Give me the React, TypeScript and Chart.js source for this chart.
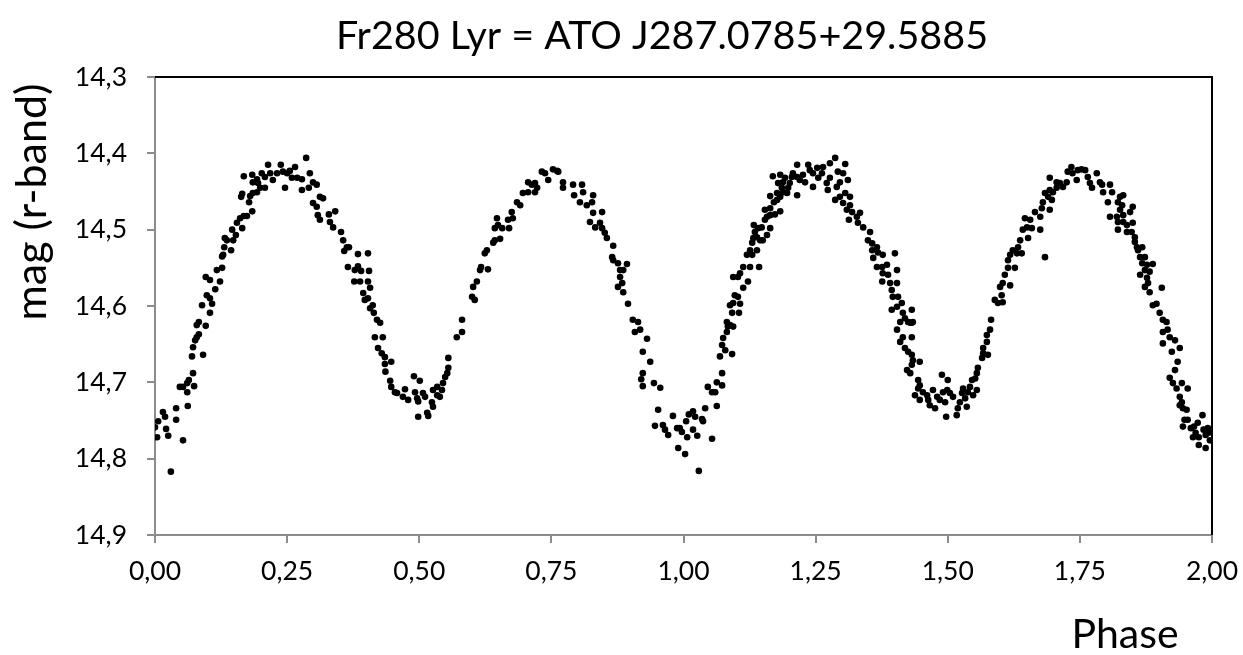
import { useEffect, useRef } from "react";
import { Chart, registerables } from "chart.js";

Chart.register(...registerables);

const chartTitle = "Fr280 Lyr = ATO J287.0785+29.5885";
const xAxisTitle = "Phase";
const yAxisTitle = "mag (r-band)";

const xMin = 0;
const xMax = 2;
const xStep = 0.25;
const yMin = 14.3;
const yMax = 14.9;
const yStep = 0.1;

// [phase, magnitude]
const segmentA: [number, number][] = [
  [0.000,14.759],[0.004,14.772],[0.006,14.751],[0.015,14.739],[0.019,14.745],[0.021,14.761],[0.025,14.770],[0.030,14.817],
  [0.040,14.734],[0.040,14.749],[0.053,14.776],[0.047,14.706],[0.053,14.706],[0.061,14.701],[0.061,14.713],[0.062,14.731],
  [0.064,14.697],[0.072,14.688],[0.074,14.705],[0.070,14.666],[0.072,14.654],[0.076,14.645],[0.079,14.641],[0.091,14.664],
  [0.083,14.637],[0.079,14.625],[0.083,14.621],[0.096,14.626],[0.089,14.599],[0.104,14.609],[0.108,14.597],[0.098,14.586],
  [0.104,14.590],[0.114,14.578],[0.123,14.568],[0.096,14.562],[0.104,14.566],[0.117,14.553],[0.127,14.550],[0.127,14.535],
  [0.129,14.533],[0.131,14.523],[0.144,14.527],[0.132,14.511],[0.136,14.514],[0.148,14.514],[0.153,14.507],[0.146,14.500],
  [0.155,14.491],[0.165,14.498],[0.161,14.485],[0.168,14.482],[0.174,14.482],[0.184,14.476],[0.178,14.464],[0.163,14.457],
  [0.165,14.453],[0.180,14.456],[0.185,14.452],[0.193,14.451],[0.199,14.445],[0.168,14.430],[0.184,14.428],[0.185,14.438],
  [0.193,14.434],[0.195,14.439],[0.202,14.426],[0.208,14.431],[0.214,14.415],[0.208,14.445],[0.218,14.426],[0.223,14.435],
  [0.231,14.426],[0.238,14.415],[0.242,14.424],[0.246,14.445],[0.250,14.426],[0.255,14.423],[0.259,14.432],[0.265,14.418],
  [0.269,14.432],[0.278,14.434],[0.286,14.406],[0.278,14.448],[0.293,14.426],[0.291,14.445],[0.299,14.438],[0.306,14.441],
  [0.299,14.465],[0.312,14.457],[0.318,14.459],[0.306,14.470],[0.308,14.481],[0.312,14.487],[0.329,14.480],[0.341,14.476],
  [0.331,14.490],[0.337,14.497],[0.352,14.503],[0.356,14.514],[0.363,14.523],[0.358,14.528],[0.367,14.523],[0.384,14.532],
  [0.403,14.531],[0.365,14.549],[0.384,14.548],[0.378,14.553],[0.390,14.554],[0.405,14.554],[0.377,14.568],[0.388,14.568],
  [0.403,14.568],[0.407,14.576],[0.394,14.583],[0.397,14.592],[0.403,14.590],[0.412,14.599],[0.407,14.603],[0.414,14.609],
  [0.420,14.618],[0.426,14.622],[0.416,14.641],[0.431,14.641],
];

const segmentB: [number, number][] = [
  [0.422,14.655],[0.429,14.662],[0.435,14.667],[0.435,14.676],[0.447,14.673],[0.436,14.686],[0.445,14.698],[0.447,14.706],
  [0.454,14.713],[0.458,14.714],[0.473,14.709],[0.469,14.719],[0.479,14.723],[0.490,14.692],[0.501,14.698],[0.492,14.713],
  [0.496,14.721],[0.498,14.725],[0.507,14.714],[0.511,14.719],[0.498,14.745],[0.515,14.740],[0.517,14.744],[0.524,14.726],
  [0.526,14.732],[0.526,14.710],[0.534,14.706],[0.534,14.717],[0.539,14.719],[0.543,14.710],[0.545,14.701],[0.549,14.693],
  [0.553,14.688],[0.555,14.681],[0.555,14.668],[0.571,14.641],[0.581,14.634],[0.581,14.618],[0.600,14.588],[0.605,14.592],
  [0.602,14.575],[0.609,14.568],[0.615,14.553],[0.617,14.549],[0.630,14.552],[0.624,14.531],[0.628,14.527],[0.640,14.517],
  [0.643,14.514],[0.653,14.512],[0.643,14.498],[0.649,14.494],[0.647,14.485],[0.657,14.498],[0.670,14.498],[0.668,14.487],
  [0.677,14.485],[0.675,14.477],[0.685,14.464],[0.691,14.468],[0.696,14.452],[0.706,14.451],[0.706,14.438],[0.713,14.441],
  [0.719,14.439],[0.723,14.445],[0.719,14.451],[0.732,14.424],[0.738,14.426],[0.744,14.435],[0.753,14.421],[0.761,14.423],
  [0.763,14.424],[0.772,14.438],[0.772,14.445],[0.791,14.441],[0.808,14.441],[0.793,14.455],[0.810,14.451],[0.804,14.464],
  [0.817,14.468],[0.829,14.455],[0.827,14.464],[0.829,14.478],[0.846,14.477],[0.823,14.490],[0.833,14.497],[0.842,14.491],
  [0.846,14.498],[0.851,14.504],[0.855,14.511],[0.867,14.521],[0.865,14.536],[0.867,14.540],[0.876,14.544],[0.893,14.545],
  [0.880,14.553],[0.886,14.553],[0.880,14.562],[0.884,14.570],[0.876,14.575],[0.886,14.582],[0.895,14.597],[0.904,14.618],
  [0.914,14.621],[0.908,14.634],[0.918,14.631],[0.931,14.643],[0.923,14.660],[0.937,14.673],[0.923,14.688],[0.920,14.696],
  [0.923,14.705],[0.944,14.701],[0.956,14.707],[0.952,14.736],[0.946,14.757],[0.961,14.756],[0.965,14.762],[0.971,14.769],
  [0.980,14.744],[0.988,14.760],[0.993,14.760],[0.997,14.765],[0.990,14.786],
];

const segmentC: [number, number][] = [
  [1.005,14.751],[1.010,14.742],[1.018,14.738],[1.022,14.745],[1.018,14.762],[1.007,14.772],[1.026,14.770],[1.003,14.794],
  [1.029,14.816],[1.035,14.748],[1.037,14.751],[1.041,14.734],[1.054,14.774],[1.063,14.731],[1.046,14.706],[1.054,14.713],
  [1.060,14.713],[1.063,14.700],[1.073,14.704],[1.073,14.688],[1.069,14.666],[1.092,14.663],[1.079,14.658],[1.073,14.651],
  [1.075,14.642],[1.082,14.634],[1.084,14.627],[1.094,14.627],[1.082,14.621],[1.088,14.625],[1.092,14.609],[1.105,14.609],
  [1.088,14.599],[1.094,14.596],[1.107,14.597],[1.097,14.586],[1.103,14.588],[1.113,14.576],[1.094,14.562],[1.103,14.562],
  [1.107,14.557],[1.122,14.568],[1.113,14.549],[1.126,14.549],[1.143,14.549],[1.120,14.533],[1.130,14.533],[1.126,14.527],
  [1.139,14.527],[1.130,14.517],[1.132,14.511],[1.139,14.510],[1.145,14.514],[1.150,14.514],[1.135,14.503],[1.141,14.498],
  [1.148,14.497],[1.158,14.507],[1.133,14.494],[1.154,14.487],[1.164,14.498],[1.158,14.483],[1.164,14.481],[1.173,14.480],
  [1.154,14.474],[1.164,14.472],[1.183,14.476],[1.171,14.464],[1.177,14.461],[1.164,14.456],[1.183,14.457],[1.177,14.452],
  [1.188,14.451],[1.196,14.452],[1.186,14.445],[1.198,14.445],[1.179,14.439],[1.188,14.438],[1.169,14.430],[1.183,14.428],
  [1.192,14.432],[1.201,14.439],[1.205,14.431],[1.207,14.426],[1.215,14.415],[1.215,14.431],[1.215,14.455],[1.220,14.435],
  [1.226,14.428],[1.230,14.438],[1.236,14.415],[1.239,14.422],[1.245,14.444],[1.245,14.426],[1.253,14.419],[1.255,14.432],
  [1.262,14.426],[1.264,14.418],[1.271,14.439],[1.273,14.448],[1.277,14.432],[1.287,14.406],[1.277,14.413],[1.292,14.424],
  [1.290,14.444],[1.296,14.438],[1.306,14.414],[1.302,14.426],[1.311,14.435],[1.287,14.461],[1.296,14.457],[1.306,14.452],
  [1.315,14.457],[1.302,14.465],[1.309,14.474],[1.315,14.468],[1.319,14.477],[1.313,14.487],[1.334,14.478],[1.328,14.483],
  [1.330,14.491],[1.340,14.497],[1.353,14.503],[1.349,14.514],[1.357,14.518],[1.366,14.523],[1.357,14.527],[1.359,14.537],
  [1.368,14.530],[1.377,14.533],[1.400,14.531],[1.366,14.549],[1.376,14.549],[1.385,14.546],[1.404,14.553],[1.377,14.557],
  [1.387,14.559],[1.376,14.568],[1.391,14.570],[1.404,14.570],[1.394,14.579],[1.396,14.588],[1.406,14.588],[1.413,14.596],
  [1.394,14.605],[1.404,14.601],[1.415,14.609],[1.432,14.605],[1.410,14.621],[1.425,14.621],[1.404,14.631],[1.432,14.622],
  [1.415,14.641],[1.432,14.641],
];

const segmentD: [number, number][] = [
  [1.419,14.616],[1.429,14.622],[1.434,14.621],[1.410,14.647],[1.419,14.655],[1.425,14.660],[1.432,14.664],[1.434,14.671],
  [1.447,14.673],[1.432,14.677],[1.423,14.684],[1.429,14.688],[1.444,14.697],[1.447,14.704],[1.444,14.708],[1.453,14.713],
  [1.461,14.717],[1.438,14.717],[1.447,14.723],[1.463,14.723],[1.472,14.710],[1.480,14.719],[1.466,14.730],[1.476,14.734],
  [1.489,14.690],[1.500,14.697],[1.491,14.713],[1.499,14.710],[1.485,14.723],[1.495,14.726],[1.504,14.714],[1.510,14.719],
  [1.497,14.745],[1.517,14.743],[1.519,14.734],[1.523,14.726],[1.527,14.714],[1.529,14.708],[1.533,14.721],[1.536,14.732],
  [1.538,14.713],[1.542,14.706],[1.546,14.697],[1.548,14.717],[1.552,14.695],[1.555,14.688],[1.557,14.681],[1.555,14.710],
  [1.565,14.668],[1.567,14.662],[1.576,14.664],[1.567,14.655],[1.574,14.647],[1.574,14.638],[1.580,14.631],[1.582,14.618],
  [1.589,14.592],[1.595,14.596],[1.604,14.595],[1.602,14.586],[1.599,14.575],[1.604,14.570],[1.618,14.573],[1.608,14.559],
  [1.614,14.550],[1.627,14.550],[1.614,14.540],[1.618,14.533],[1.623,14.527],[1.631,14.531],[1.640,14.531],[1.633,14.523],
  [1.637,14.514],[1.652,14.511],[1.684,14.536],[1.642,14.500],[1.650,14.497],[1.659,14.498],[1.675,14.500],[1.646,14.485],
  [1.656,14.487],[1.665,14.477],[1.675,14.483],[1.678,14.472],[1.680,14.464],[1.693,14.474],[1.684,14.452],[1.690,14.457],
  [1.697,14.461],[1.693,14.448],[1.699,14.451],[1.706,14.445],[1.693,14.432],[1.706,14.438],[1.712,14.439],[1.718,14.444],
  [1.725,14.438],[1.727,14.424],[1.734,14.418],[1.736,14.426],[1.744,14.435],[1.746,14.422],[1.753,14.421],[1.760,14.422],
  [1.765,14.431],[1.769,14.439],[1.773,14.445],[1.782,14.426],[1.788,14.438],[1.792,14.441],[1.794,14.451],[1.807,14.441],
  [1.811,14.451],[1.803,14.464],[1.822,14.464],[1.826,14.457],[1.832,14.455],[1.830,14.468],[1.826,14.474],[1.820,14.483],
  [1.832,14.481],[1.850,14.470],[1.845,14.477],[1.807,14.483],[1.822,14.490],[1.832,14.490],[1.839,14.494],[1.850,14.491],
  [1.822,14.500],[1.839,14.503],[1.848,14.503],[1.854,14.510],[1.854,14.516],[1.858,14.523],[1.868,14.523],[1.860,14.527],
  [1.864,14.536],[1.873,14.536],[1.868,14.544],[1.877,14.546],[1.888,14.545],[1.873,14.553],[1.882,14.555],[1.864,14.559],
  [1.877,14.563],[1.879,14.570],[1.873,14.575],[1.882,14.582],[1.905,14.576],[1.888,14.599],[1.895,14.597],[1.901,14.609],
  [1.907,14.618],[1.914,14.621],[1.907,14.634],[1.916,14.631],[1.920,14.641],[1.907,14.649],[1.930,14.645],[1.924,14.660],
  [1.939,14.655],[1.935,14.673],[1.930,14.684],[1.920,14.694],[1.926,14.701],[1.933,14.708],[1.943,14.701],[1.954,14.708],
  [1.939,14.719],[1.943,14.726],[1.939,14.730],[1.945,14.734],[1.952,14.736],[1.948,14.749],[1.954,14.749],[1.945,14.758],
  [1.960,14.760],[1.966,14.758],[1.973,14.753],[1.982,14.743],[1.969,14.766],[1.964,14.772],[1.975,14.772],[1.984,14.762],
  [1.992,14.760],[1.988,14.769],[1.994,14.766],[1.975,14.782],[1.988,14.786],[1.996,14.776],
];

const FONT = "Lato, 'Open Sans', 'DejaVu Sans', sans-serif";
const AXIS_GRAY = "#8c8c8c";

const decorPlugin = {
  id: "decor",
  afterDraw(chart: any) {
    const { ctx, chartArea: a } = chart;
    ctx.save();
    ctx.strokeStyle = "#000";
    ctx.lineWidth = 2;
    ctx.beginPath();
    ctx.moveTo(a.left, a.top);
    ctx.lineTo(a.right, a.top);
    ctx.lineTo(a.right, a.bottom);
    ctx.stroke();

    ctx.fillStyle = "#000";
    ctx.textAlign = "center";
    ctx.textBaseline = "alphabetic";
    ctx.font = `39.5px ${FONT}`;
    ctx.fillText(chartTitle, 662, 49);
    ctx.font = `41px ${FONT}`;
    ctx.fillText(xAxisTitle, 1125, 648);
    ctx.font = `43px ${FONT}`;
    ctx.translate(46, 202);
    ctx.rotate(-Math.PI / 2);
    ctx.fillText(yAxisTitle, 0, 0);
    ctx.restore();
  },
};

export default function App() {
  const canvasRef = useRef<HTMLCanvasElement | null>(null);

  useEffect(() => {
    document.body.style.margin = "0";
    const canvas = canvasRef.current;
    if (!canvas) return;
    const points = [...segmentA, ...segmentB, ...segmentC, ...segmentD].map(([x, y]) => ({ x, y }));
    const chart = new Chart(canvas, {
      type: "scatter",
      data: {
        datasets: [
          {
            data: points,
            backgroundColor: "#000",
            borderWidth: 0,
            pointRadius: 3.3,
            pointHoverRadius: 3.3,
          },
        ],
      },
      options: {
        animation: false,
        responsive: true,
        maintainAspectRatio: false,
        layout: { padding: { top: 77, right: 31, left: 0, bottom: 0 } },
        plugins: { legend: { display: false }, tooltip: { enabled: false }, title: { display: false } },
        scales: {
          x: {
            type: "linear",
            min: xMin,
            max: xMax,
            ticks: {
              stepSize: xStep,
              color: "#000",
              font: { family: FONT, size: 26.5 },
              padding: 13,
              maxRotation: 0,
              callback: (v: any) => Number(v).toFixed(2).replace(".", ","),
            },
            grid: { drawOnChartArea: false, drawTicks: true, tickLength: 8, color: AXIS_GRAY, lineWidth: 2 },
            border: { display: true, color: AXIS_GRAY, width: 2 },
            afterFit: (s: any) => {
              s.height = 120;
              s.paddingLeft = 0;
              s.paddingRight = 0;
            },
          },
          y: {
            type: "linear",
            reverse: true,
            min: yMin,
            max: yMax,
            ticks: {
              stepSize: yStep,
              color: "#000",
              font: { family: FONT, size: 26.5 },
              padding: 20,
              callback: (v: any) => Number(v).toFixed(1).replace(".", ","),
            },
            grid: { drawOnChartArea: false, drawTicks: true, tickLength: 8, color: AXIS_GRAY, lineWidth: 2 },
            border: { display: true, color: AXIS_GRAY, width: 2 },
            afterFit: (s: any) => {
              s.width = 155;
              s.paddingTop = 0;
              s.paddingBottom = 0;
            },
          },
        },
      },
      plugins: [decorPlugin],
    });
    return () => chart.destroy();
  }, []);

  return (
    <div style={{ width: 1243, height: 655, position: "relative", background: "#fff" }}>
      <canvas ref={canvasRef} />
    </div>
  );
}
